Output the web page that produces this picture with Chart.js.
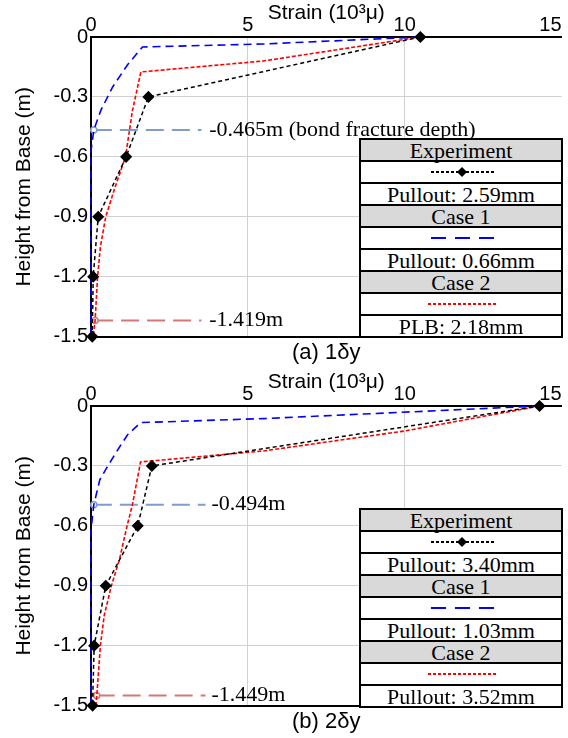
<!DOCTYPE html>
<html><head><meta charset="utf-8">
<script src="https://cdn.jsdelivr.net/npm/chart.js@4.4.1/dist/chart.umd.min.js"></script>
<style>
html,body{margin:0;padding:0;background:#fff;}
#wrap{width:568px;height:738px;position:relative;overflow:hidden;}
.panel{position:relative;width:568px;height:369px;}
canvas{display:block;}
.legend{position:absolute;left:359px;width:200px;border:2px solid #000;font-family:"Liberation Serif","Times New Roman",serif;font-size:22px;color:#000;background:#fff;}
.legend .row{height:20px;line-height:21px;border-bottom:2px solid #000;text-align:center;white-space:nowrap;overflow:visible;position:relative;}
.legend .row:last-child{border-bottom:none;}
.legend .head{background:#d9d9d9;}
.legend svg{position:absolute;left:0;top:0;}
</style></head>
<body>
<div id="wrap">
  <div class="panel"><canvas id="cA" width="568" height="369"></canvas><div class="legend" id="legA" style="top:138px"></div></div>
  <div class="panel"><canvas id="cB" width="568" height="369"></canvas><div class="legend" id="legB" style="top:139px"></div></div>
</div>
<script>
// ---------- data ----------
const heightTicks = [0, -0.3, -0.6, -0.9, -1.2, -1.5];
const strainTicks = [0, 5, 10, 15];
const seriesNames = ['Experiment', 'Case 1', 'Case 2'];

// (a) 1δy
const expA_height = [0, -0.3, -0.6, -0.9, -1.2, -1.5];
const expA_strain = [10.5, 1.83, 1.12, 0.23, 0.07, 0.04];
const case1A_height = [0, -0.035, -0.05, -0.14, -0.25, -0.365, -0.465, -0.57, -1.5];
const case1A_strain = [10.5, 5.5, 1.64, 1.16, 0.69, 0.32, 0.09, 0, 0];
const case2A_height = [0, -0.12, -0.175, -0.37, -0.6, -0.76, -0.9, -1.05, -1.2, -1.42, -1.5];
const case2A_strain = [10.5, 5.5, 1.59, 1.32, 1.10, 0.75, 0.47, 0.30, 0.21, 0.13, 0.07];
const notesA = ['Pullout: 2.59mm', 'Pullout: 0.66mm', 'PLB: 2.18mm'];
const depthA = [-0.465, -1.419];
const depthLabelsA = ['-0.465m (bond fracture depth)', '-1.419m'];
const captionA = '(a) 1δy';

// (b) 2δy
const expB_height = [0, -0.3, -0.6, -0.9, -1.2, -1.5];
const expB_strain = [14.3, 1.94, 1.49, 0.47, 0.10, 0.05];
const case1B_height = [0, -0.063, -0.083, -0.145, -0.22, -0.31, -0.37, -0.494, -0.62, -1.5];
const case1B_strain = [14.3, 5.5, 1.58, 1.16, 0.85, 0.50, 0.28, 0.09, 0, 0];
const case2B_height = [0, -0.125, -0.225, -0.28, -0.495, -0.6, -0.767, -0.9, -1.05, -1.2, -1.46, -1.5];
const case2B_strain = [14.3, 10, 5.5, 1.58, 1.32, 1.15, 0.91, 0.65, 0.42, 0.30, 0.18, 0.15];
const notesB = ['Pullout: 3.40mm', 'Pullout: 1.03mm', 'Pullout: 3.52mm'];
const depthB = [-0.494, -1.449];
const depthLabelsB = ['-0.494m', '-1.449m'];
const captionB = '(b) 2δy';

// annotation guide extents (strain units): start of blue / red guides, end of guide, label start
const guideStartA = [0.09, 0.13], guideEndA = 3.52, guideLabelA = 3.77;
const guideStartB = [0.09, 0.18], guideEndB = 3.65, guideLabelB = 3.84;

// ---------- helpers ----------
const zip = (xs, ys) => xs.map((x, i) => ({x: x, y: ys[i]}));
const BLUE_GUIDE = '#7f9ccf', RED_GUIDE = '#d27878';

const annotationLabels = {
  id: 'annotationLabels',
  afterDatasetsDraw(chart, args, opts) {
    const ctx = chart.ctx, xs = chart.scales.x, ys = chart.scales.y;
    ctx.save();
    ctx.font = '22px "Liberation Serif", "Times New Roman", serif';
    ctx.fillStyle = '#000';
    ctx.textAlign = 'left';
    ctx.textBaseline = 'middle';
    (opts.items || []).forEach(it => ctx.fillText(it.text, xs.getPixelForValue(it.x), ys.getPixelForValue(it.y)));
    ctx.restore();
  }
};

function guide(start, end, y, color) {
  return {
    data: [{x: start, y: y}, {x: end, y: y}],
    showLine: true, borderColor: color, borderWidth: 2, borderDash: [18, 8],
    pointRadius: [3, 0], pointStyle: 'circle', pointBorderColor: color, pointBackgroundColor: '#fff', pointBorderWidth: 1.5,
    clip: false
  };
}

function makeChart(id, exp, c1, c2, depth, depthLabels, gStart, gEnd, gLabel, caption) {
  const tickFont = {family: '"Liberation Sans", Arial, sans-serif', size: 20};
  const titleFont = {family: '"Liberation Sans", Arial, sans-serif', size: 21};
  return new Chart(document.getElementById(id), {
    type: 'scatter',
    data: {
      datasets: [
        {label: seriesNames[0], data: exp, showLine: true, borderColor: '#000', borderWidth: 1.5, borderDash: [4, 3],
         pointStyle: 'rectRot', pointRadius: 5, pointBackgroundColor: '#000', pointBorderColor: '#000', clip: false},
        {label: seriesNames[1], data: c1, showLine: true, borderColor: '#0000ff', borderWidth: 1.6, borderDash: [8, 5],
         pointRadius: 0, clip: false},
        {label: seriesNames[2], data: c2, showLine: true, borderColor: '#ff0000', borderWidth: 1.6, borderDash: [4, 2],
         pointRadius: 0, clip: false},
        guide(gStart[0], gEnd, depth[0], BLUE_GUIDE),
        guide(gStart[1], gEnd, depth[1], RED_GUIDE)
      ]
    },
    options: {
      responsive: false, animation: false, devicePixelRatio: 1,
      layout: {padding: 0},
      plugins: {
        legend: {display: false}, tooltip: {enabled: false},
        title: {display: true, text: caption, position: 'bottom', fullSize: false, color: '#000',
                font: {family: '"Liberation Sans", Arial, sans-serif', size: 22, weight: 'normal'}, padding: {top: 3, bottom: 3}},
        annotationLabels: {items: [{x: gLabel, y: depth[0], text: depthLabels[0]}, {x: gLabel, y: depth[1], text: depthLabels[1]}]}
      },
      scales: {
        x: {
          type: 'linear', position: 'top', min: 0, max: 15,
          afterBuildTicks: s => { s.ticks = strainTicks.map(v => ({value: v})); },
          afterFit: s => { s.height = 37; s.paddingLeft = 0; s.paddingRight = 0; },
          grid: {color: c => (c.tick && (c.tick.value === 0 || c.tick.value === 15)) ? 'rgba(0,0,0,0)' : '#d0d0d0', lineWidth: 1, drawTicks: false},
          border: {color: '#000', width: 2},
          ticks: {font: tickFont, color: '#000', padding: 0, autoSkip: false, maxRotation: 0,
                  callback: (v, i, t) => i === t.length - 1 ? String(v) + '    ' : String(v)},
          title: {display: true, text: 'Strain (10³μ)', color: '#000', font: titleFont, padding: {top: 1, bottom: 0}}
        },
        y: {
          type: 'linear', position: 'left', min: -1.5, max: 0,
          afterBuildTicks: s => { s.ticks = heightTicks.map(v => ({value: v})); },
          afterFit: s => { s.width = 91; s.paddingTop = 0; s.paddingBottom = 0; },
          grid: {color: c => (c.tick && c.tick.value === -1.5) ? '#000' : ((c.tick && c.tick.value === 0) ? 'rgba(0,0,0,0)' : '#d0d0d0'),
                 lineWidth: c => (c.tick && c.tick.value === -1.5) ? 2 : 1, drawTicks: false},
          border: {color: '#000', width: 2},
          ticks: {font: tickFont, color: '#000', padding: 3, autoSkip: false,
                  callback: v => v === 0 ? '0' : v.toFixed(1)},
          title: {display: true, text: 'Height from Base (m)', color: '#000', font: titleFont, padding: {top: 12, bottom: 0}}
        }
      }
    },
    plugins: [annotationLabels]
  });
}

function buildLegend(id, notes) {
  const el = document.getElementById(id);
  const samples = [
    '<svg width="200" height="20"><line x1="70" y1="10" x2="133" y2="10" stroke="#000" stroke-width="2" stroke-dasharray="3,2"/><polygon points="101,5 106,10 101,15 96,10" fill="#000"/></svg>',
    '<svg width="200" height="20"><line x1="70" y1="10" x2="133" y2="10" stroke="#0000ff" stroke-width="2" stroke-dasharray="15,9"/></svg>',
    '<svg width="200" height="20"><line x1="67" y1="10" x2="136" y2="10" stroke="#ff0000" stroke-width="2" stroke-dasharray="3,2"/></svg>'
  ];
  let html = '';
  seriesNames.forEach((n, i) => {
    html += '<div class="row head">' + n + '</div>';
    html += '<div class="row">' + samples[i] + '</div>';
    html += '<div class="row">' + notes[i] + '</div>';
  });
  el.innerHTML = html;
}

makeChart('cA', zip(expA_strain, expA_height), zip(case1A_strain, case1A_height), zip(case2A_strain, case2A_height),
          depthA, depthLabelsA, guideStartA, guideEndA, guideLabelA, captionA);
makeChart('cB', zip(expB_strain, expB_height), zip(case1B_strain, case1B_height), zip(case2B_strain, case2B_height),
          depthB, depthLabelsB, guideStartB, guideEndB, guideLabelB, captionB);
buildLegend('legA', notesA);
buildLegend('legB', notesB);
</script>
</body></html>
